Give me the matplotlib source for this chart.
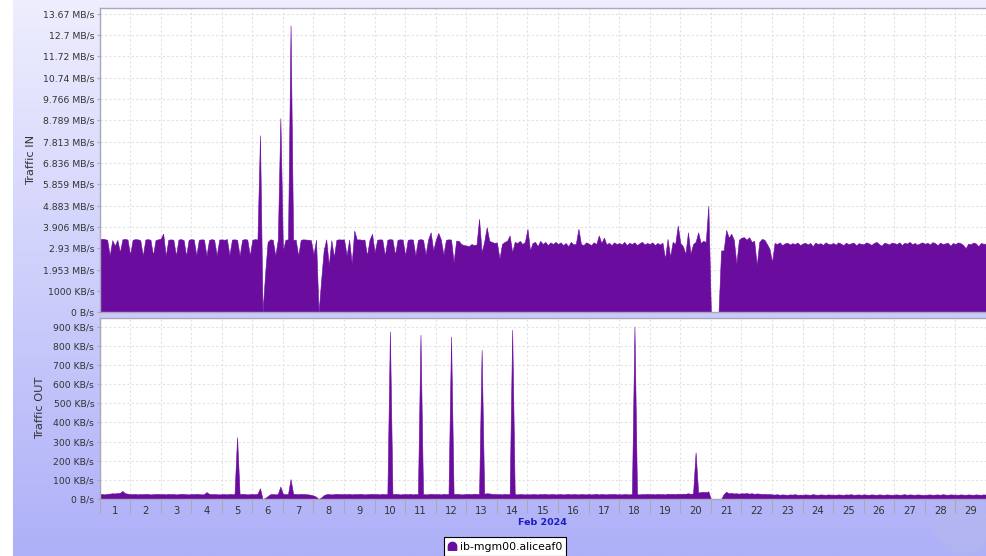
import numpy as np
import pandas as pd
import matplotlib
matplotlib.use("Agg")
import matplotlib.pyplot as plt
from matplotlib.path import Path
from matplotlib.lines import Line2D
from matplotlib.patches import Ellipse

# ---------------- data ----------------
series_name = "ib-mgm00.aliceaf0"
start_time = "2024-02-01 00:00"
sample_step = "2h"
view_start = "2024-02-01 02:24"
view_end = "2024-02-29 22:34"
month_label = "Feb 2024"

# Traffic IN, KB/s, one row per day (2-hour samples)
traffic_in_kb = [
    3420, 3450, 3430, 3400, 2660, 3380, 3120, 3390, 2820, 3420, 3440, 3410,
    2700, 3400, 3430, 3420, 3380, 2650, 3410, 3430, 3400, 2680, 3390, 3420,
    3450, 3690, 2640, 3400, 3420, 3400, 2660, 3410, 3430, 3390, 2650, 3400,
    3430, 3410, 2670, 3400, 3420, 3410, 2650, 3390, 3430, 3400, 2660, 3410,
    3420, 3400, 3430, 2680, 3410, 3420, 3400, 2650, 3400, 3430, 3410, 2670,
    3400, 3430, 3410, 8300, 0, 1800, 3300, 3420, 3400, 2650, 3410, 9100,
    2900, 3400, 3420, 13450, 3390, 3410, 2650, 3400, 3420, 3410, 3400, 3380,
    2700, 3400, 0, 1500, 2900, 3420, 2200, 3380, 2580, 3400, 3420, 3410,
    3420, 2660, 3400, 2280, 3830, 3410, 3420, 3400, 3410, 2660, 3400, 3680,
    2800, 3400, 3420, 3410, 2660, 3400, 3430, 3410, 2700, 3400, 3420, 3410,
    2660, 3400, 3420, 3410, 2660, 3400, 3430, 3400, 2700, 3420, 3750, 2900,
    3400, 3720, 3410, 2700, 3400, 3420, 3410, 2350, 3360, 3350, 3200, 3150,
    3130, 3100, 3200, 3150, 3180, 4380, 2820, 3300, 3990, 3350, 3300, 3250,
    3280, 2510, 3200, 3300, 3350, 3600, 2820, 3300, 3250, 3350, 3200, 3300,
    3910, 2900, 3250, 3300, 3100, 3350, 3200, 3300, 3150, 3280, 3200, 3300,
    3200, 3280, 3150, 3250, 3100, 3300, 3180, 3220, 3910, 3200, 3150, 3280,
    3220, 3150, 3280, 3200, 3600, 3250, 3500, 3180, 3260, 3150, 3280, 3200,
    3250, 3180, 3300, 3150, 3260, 3200, 3280, 3150, 3240, 3300, 3180, 3250,
    3200, 3280, 3150, 3250, 3180, 3260, 2510, 3440, 2600, 3300, 3200, 4070,
    3250, 3100, 2740, 3750, 2750, 3200, 3300, 3750, 3250, 3350, 3300, 5000,
    0, 0, 0, 0, 2900, 2900, 3860, 3500, 3680, 3400, 2280, 3400,
    3500, 3520, 3400, 3520, 3300, 3350, 2200, 3300, 3440, 3400, 3200, 2980,
    2350, 3250, 3200, 3280, 3150, 3230, 3260, 3180, 3240, 3200, 3270, 3150,
    3220, 3260, 3180, 3250, 3100, 3270, 3200, 3240, 3160, 3280, 3210, 3190,
    3250, 3170, 3280, 3220, 3150, 3260, 3200, 3230, 3270, 3140, 3240, 3210,
    3190, 3280, 3230, 3160, 3250, 3300, 3200, 3120, 3260, 3230, 3180, 3270,
    3240, 3200, 3280, 3150, 3260, 3220, 3300, 3190, 3250, 3170, 3230, 3280,
    3210, 3260, 3180, 3290, 3240, 3150, 3270, 3200, 3230, 3260, 3120, 3250,
    3200, 3280, 3240, 3160, 3000, 3220, 3190, 3270, 3230, 3100, 3250, 3210,
    3220,
]

# Traffic OUT, KB/s, one row per day (2-hour samples)
traffic_out_kb = [
    25, 26, 24, 27, 28, 30, 29, 31, 32, 42, 30, 28,
    26, 25, 27, 24, 26, 25, 27, 26, 24, 25, 26, 27,
    25, 26, 24, 27, 25, 26, 24, 25, 27, 26, 25, 24,
    26, 25, 27, 26, 24, 25, 36, 27, 25, 26, 25, 24,
    25, 26, 24, 27, 25, 26, 323, 25, 27, 26, 24, 25,
    26, 25, 27, 56, 0, 5, 15, 25, 26, 24, 26, 65,
    27, 25, 26, 104, 28, 26, 25, 27, 26, 25, 24, 22,
    18, 12, 0, 8, 20, 25, 26, 24, 25, 27, 26, 25,
    26, 25, 27, 24, 26, 25, 27, 26, 24, 25, 26, 27,
    25, 26, 24, 27, 25, 26, 875, 25, 27, 26, 24, 25,
    26, 25, 27, 24, 26, 25, 858, 26, 24, 25, 27, 26,
    25, 26, 24, 27, 25, 26, 849, 25, 27, 26, 24, 25,
    26, 27, 25, 28, 26, 27, 779, 28, 30, 29, 27, 26,
    25, 26, 24, 27, 25, 26, 884, 25, 24, 26, 25, 24,
    25, 24, 26, 25, 24, 26, 25, 27, 24, 25, 26, 24,
    25, 26, 24, 25, 27, 24, 26, 25, 24, 26, 25, 24,
    26, 24, 25, 27, 24, 26, 25, 24, 26, 25, 27, 24,
    25, 24, 26, 25, 24, 26, 900, 25, 24, 26, 25, 27,
    25, 26, 24, 27, 25, 26, 24, 28, 26, 27, 25, 28,
    26, 28, 27, 30, 27, 29, 244, 34, 36, 38, 35, 40,
    0, 0, 0, 0, 0, 25, 38, 30, 32, 29, 30, 28,
    30, 29, 31, 28, 30, 27, 29, 28, 26, 27, 25, 26,
    24, 23, 25, 22, 24, 23, 22, 24, 23, 25, 22, 23,
    22, 24, 23, 22, 25, 23, 22, 24, 23, 22, 24, 23,
    23, 22, 24, 23, 22, 24, 23, 25, 22, 23, 24, 22,
    24, 23, 22, 24, 23, 22, 24, 23, 22, 24, 23, 22,
    23, 24, 22, 23, 25, 22, 24, 23, 22, 24, 23, 22,
    22, 23, 24, 22, 23, 24, 22, 25, 23, 22, 24, 23,
    23, 22, 24, 23, 22, 24, 23, 22, 24, 23, 22, 24,
    23,
]

day_labels = ["1", "2", "3", "4", "5", "6", "7", "8", "9", "10",
              "11", "12", "13", "14", "15", "16", "17", "18", "19", "20",
              "21", "22", "23", "24", "25", "26", "27", "28", "29"]

in_tick_values = [0, 1000, 2000, 3000, 4000, 5000, 6000, 7000, 8000,
                  9000, 10000, 11000, 12000, 13000, 14000]
in_tick_labels = ["0 B/s", "1000 KB/s", "1.953 MB/s", "2.93 MB/s", "3.906 MB/s",
                  "4.883 MB/s", "5.859 MB/s", "6.836 MB/s", "7.813 MB/s",
                  "8.789 MB/s", "9.766 MB/s", "10.74 MB/s", "11.72 MB/s",
                  "12.7 MB/s", "13.67 MB/s"]
in_ymax = 14250

out_tick_values = [0, 100, 200, 300, 400, 500, 600, 700, 800, 900]
out_tick_labels = ["0 B/s", "100 KB/s", "200 KB/s", "300 KB/s", "400 KB/s",
                   "500 KB/s", "600 KB/s", "700 KB/s", "800 KB/s", "900 KB/s"]
out_ymax = 947

# ---------------- style ----------------
W, H = 986, 556
fill_color = "#6a0c9e"
spine_color = "#a8a8b8"
grid_color = "#e2e2e2"
text_color = "#333333"
tick_fs = 6.7

fig = plt.figure(figsize=(W / 100, H / 100), dpi=100)
fig.patch.set_facecolor("white")

# background gradient
bg = fig.add_axes([13 / W, 0, 1 - 13 / W, 1], zorder=-3)
top_c = np.array([238, 238, 254]) / 255.0
bot_c = np.array([174, 176, 248]) / 255.0
t = np.linspace(0, 1, 256)[:, None]
grad = (top_c[None, :] * (1 - t) + bot_c[None, :] * t)[:, None, :]
bg.imshow(grad, aspect="auto", extent=[0, 1, 0, 1], origin="upper")
bg.set_axis_off()

# globe watermark
fig.patches.append(Ellipse((962 / W, 1 - 527 / H), 56 / W, 56 / H,
                           transform=fig.transFigure, facecolor=(0.70, 0.72, 0.93),
                           edgecolor="none", alpha=0.55, zorder=-2))

times = pd.date_range(start_time, periods=len(traffic_in_kb), freq=sample_step)
midnights = pd.date_range("2024-02-01", "2024-03-01", freq="D")
noons = midnights[:-1] + pd.Timedelta(hours=12)
x0, x1 = pd.Timestamp(view_start), pd.Timestamp(view_end)

left = 99.5 / W
width = 1 - left
ax_in = fig.add_axes([left, 1 - 312.3 / H, width, (312.3 - 8.3) / H])
ax_out = fig.add_axes([left, 1 - 499 / H, width, (499 - 317.7) / H])

for ax in (ax_in, ax_out):
    ax.set_facecolor("white")
    ax.set_axisbelow(True)
    ax.set_xlim(x0, x1)
    ax.set_xticks(midnights)
    ax.set_xticklabels([])
    ax.grid(True, which="major", color=grid_color, linestyle=(0, (2, 2)), linewidth=0.8)
    for s in ax.spines.values():
        s.set_color(spine_color)
        s.set_linewidth(1.0)
    ax.spines["right"].set_visible(False)
    ax.tick_params(axis="y", length=2.5, width=0.8, color=spine_color,
                   labelsize=tick_fs, labelcolor=text_color, pad=1.2)

ax_in.fill_between(times, 0, traffic_in_kb, color=fill_color, linewidth=0.4,
                   edgecolor=fill_color)
ax_in.set_ylim(0, in_ymax)
ax_in.set_yticks(in_tick_values)
ax_in.set_yticklabels(in_tick_labels)
ax_in.tick_params(axis="x", length=0)

ax_out.fill_between(times, 0, traffic_out_kb, color=fill_color, linewidth=0.4,
                    edgecolor=fill_color)
ax_out.set_ylim(0, out_ymax)
ax_out.set_yticks(out_tick_values)
ax_out.set_yticklabels(out_tick_labels)
ax_out.set_xticks(noons, minor=True)
ax_out.set_xticklabels(day_labels, minor=True)
ax_out.tick_params(axis="x", which="major", length=10, width=0.8, color=spine_color)
ax_out.tick_params(axis="x", which="minor", length=0, labelsize=7.2,
                   labelcolor=text_color, pad=5)

# axis titles
fig.text(31.5 / W, 1 - 160 / H, "Traffic IN", rotation=90, ha="center", va="center",
         fontsize=8.2, color=text_color)
fig.text(40 / W, 1 - 408 / H, "Traffic OUT", rotation=90, ha="center", va="center",
         fontsize=8.2, color=text_color)
fig.text(542 / W, 1 - 522.7 / H, month_label, ha="center", va="center",
         fontsize=6.8, fontweight="bold", color="#1c1cc0")

# legend with dome-shaped marker
ang = np.linspace(0, np.pi, 20)
dome_verts = [(1.0, -0.9), (1.0, 0.0)] + [(np.cos(a), np.sin(a)) for a in ang] + \
             [(-1.0, -0.9), (1.0, -0.9)]
dome = Path(dome_verts, closed=True)
handle = Line2D([], [], linestyle="none", marker=dome, markersize=6,
                markerfacecolor=fill_color, markeredgecolor=fill_color)
leg = fig.legend(handles=[handle], labels=[series_name], loc="upper center",
                 bbox_to_anchor=(505 / W, 1 - 537.3 / H), frameon=True,
                 fancybox=False, edgecolor="black", framealpha=1, fontsize=7.8,
                 handlelength=0.8, handletextpad=0.3, borderpad=0.4,
                 borderaxespad=0)
leg.get_frame().set_linewidth(0.8)

fig.savefig("out.png", dpi=100)
